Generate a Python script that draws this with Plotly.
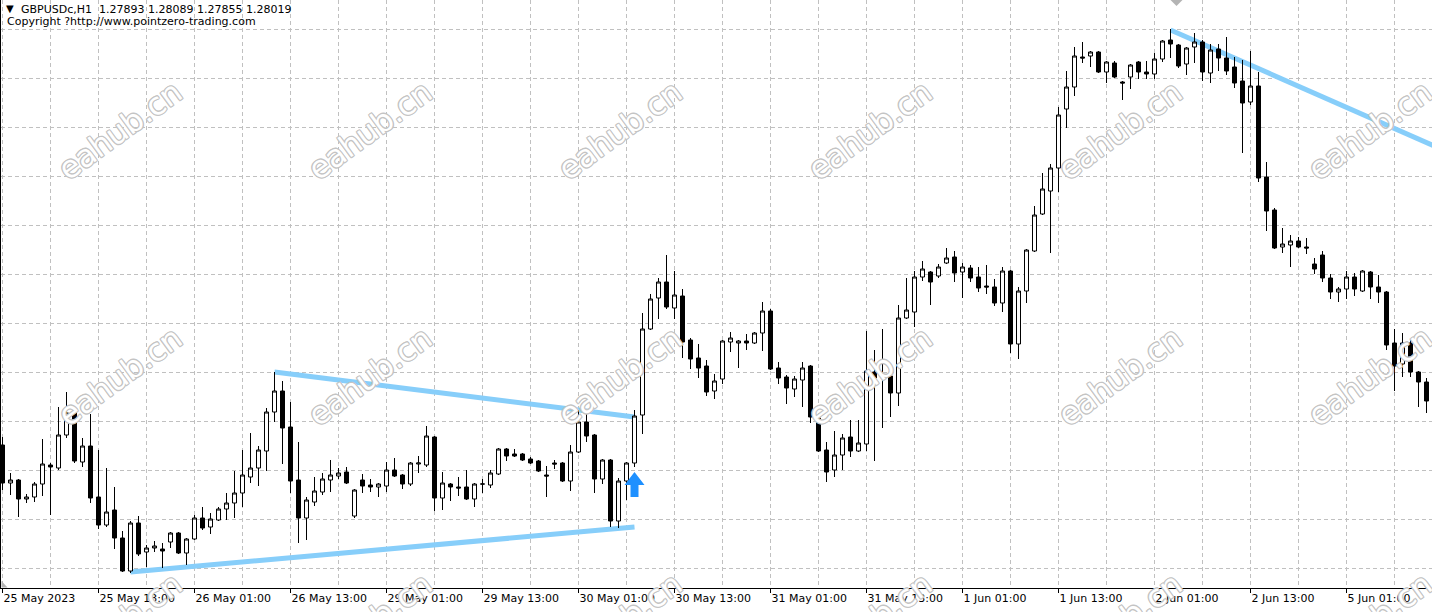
import plotly.graph_objects as go

# ---------------- data (H1 bars, GBPUSDc) ----------------
OPEN = [1.23592, 1.23440, 1.23452, 1.23376, 1.23384, 1.23436, 1.23512, 1.23500, 1.23632, 1.23724,
        1.23524, 1.23588, 1.23384, 1.23272, 1.23332, 1.23220, 1.23088, 1.23280, 1.23164, 1.23180,
        1.23176, 1.23204, 1.23240, 1.23160, 1.23216, 1.23300, 1.23264, 1.23292, 1.23336, 1.23360,
        1.23400, 1.23464, 1.23500, 1.23568, 1.23724, 1.23808, 1.23664, 1.23452, 1.23300, 1.23364,
        1.23404, 1.23452, 1.23468, 1.23484, 1.23308, 1.23452, 1.23432, 1.23424, 1.23428, 1.23492,
        1.23472, 1.23436, 1.23516, 1.23512, 1.23624, 1.23380, 1.23436, 1.23424, 1.23424, 1.23376,
        1.23436, 1.23432, 1.23476, 1.23576, 1.23556, 1.23556, 1.23536, 1.23528, 1.23472, 1.23520,
        1.23520, 1.23448, 1.23564, 1.23684, 1.23632, 1.23456, 1.23532, 1.23288, 1.23448, 1.23520,
        1.23712, 1.24056, 1.24180, 1.24244, 1.24140, 1.24188, 1.24012, 1.23940, 1.23908, 1.23808,
        1.23856, 1.24004, 1.24000, 1.24008, 1.24000, 1.24040, 1.24128, 1.23900, 1.23864, 1.23816,
        1.23852, 1.23908, 1.23700, 1.23572, 1.23492, 1.23552, 1.23624, 1.23568, 1.23596, 1.23884,
        1.23864, 1.23868, 1.23800, 1.24100, 1.24124, 1.24264, 1.24284, 1.24268, 1.24320, 1.24344,
        1.24284, 1.24300, 1.24264, 1.24228, 1.24224, 1.24160, 1.24288, 1.23996, 1.24208, 1.24368,
        1.24516, 1.24608, 1.24700, 1.24936, 1.25024, 1.25144, 1.25148, 1.25164, 1.25084, 1.25120,
        1.25044, 1.25064, 1.25124, 1.25084, 1.25076, 1.25136, 1.25212, 1.25192, 1.25116, 1.25184,
        1.25204, 1.25080, 1.25176, 1.25140, 1.25104, 1.25048, 1.24964, 1.25028, 1.24664, 1.24532,
        1.24384, 1.24392, 1.24408, 1.24384, 1.24316, 1.24352, 1.24260, 1.24204, 1.24216, 1.24264,
        1.24208, 1.24284, 1.24224, 1.24204, 1.24000, 1.23916, 1.24000, 1.23884, 1.23844]
HIGH = [1.23624, 1.23480, 1.23456, 1.23396, 1.23444, 1.23616, 1.23520, 1.23744, 1.23804, 1.23728,
        1.23620, 1.23716, 1.23572, 1.23500, 1.23424, 1.23248, 1.23288, 1.23308, 1.23192, 1.23208,
        1.23200, 1.23244, 1.23244, 1.23220, 1.23312, 1.23344, 1.23320, 1.23344, 1.23400, 1.23488,
        1.23572, 1.23640, 1.23588, 1.23740, 1.23884, 1.23848, 1.23764, 1.23604, 1.23384, 1.23464,
        1.23480, 1.23532, 1.23500, 1.23504, 1.23416, 1.23476, 1.23456, 1.23440, 1.23524, 1.23540,
        1.23476, 1.23524, 1.23548, 1.23668, 1.23628, 1.23484, 1.23440, 1.23464, 1.23492, 1.23440,
        1.23456, 1.23492, 1.23580, 1.23580, 1.23576, 1.23560, 1.23544, 1.23532, 1.23508, 1.23532,
        1.23524, 1.23592, 1.23732, 1.23716, 1.23636, 1.23536, 1.23536, 1.23460, 1.23524, 1.23732,
        1.24120, 1.24196, 1.24260, 1.24352, 1.24288, 1.24216, 1.24020, 1.23996, 1.23932, 1.23876,
        1.24012, 1.24044, 1.24012, 1.24036, 1.24044, 1.24164, 1.24136, 1.23924, 1.23872, 1.23868,
        1.23924, 1.23912, 1.23716, 1.23604, 1.23648, 1.23636, 1.23692, 1.23692, 1.24048, 1.23972,
        1.24056, 1.23888, 1.24152, 1.24260, 1.24288, 1.24328, 1.24288, 1.24316, 1.24380, 1.24368,
        1.24320, 1.24312, 1.24304, 1.24312, 1.24256, 1.24304, 1.24292, 1.24224, 1.24376, 1.24548,
        1.24680, 1.24716, 1.24944, 1.25088, 1.25184, 1.25204, 1.25168, 1.25168, 1.25128, 1.25128,
        1.25048, 1.25116, 1.25128, 1.25128, 1.25160, 1.25212, 1.25256, 1.25196, 1.25184, 1.25240,
        1.25212, 1.25196, 1.25196, 1.25224, 1.25144, 1.25132, 1.25168, 1.25084, 1.24724, 1.24540,
        1.24460, 1.24432, 1.24424, 1.24420, 1.24340, 1.24368, 1.24276, 1.24224, 1.24288, 1.24280,
        1.24292, 1.24288, 1.24272, 1.24208, 1.24056, 1.24040, 1.24012, 1.23888, 1.23860]
LOW = [1.23412, 1.23392, 1.23304, 1.23360, 1.23364, 1.23388, 1.23312, 1.23492, 1.23620, 1.23520,
       1.23504, 1.23360, 1.23256, 1.23264, 1.23176, 1.23084, 1.23080, 1.23148, 1.23104, 1.23164,
       1.23100, 1.23180, 1.23156, 1.23112, 1.23212, 1.23252, 1.23236, 1.23288, 1.23292, 1.23300,
       1.23344, 1.23440, 1.23428, 1.23488, 1.23684, 1.23516, 1.23400, 1.23200, 1.23212, 1.23348,
       1.23392, 1.23404, 1.23456, 1.23436, 1.23300, 1.23400, 1.23404, 1.23384, 1.23404, 1.23464,
       1.23416, 1.23428, 1.23480, 1.23504, 1.23328, 1.23332, 1.23368, 1.23388, 1.23372, 1.23344,
       1.23400, 1.23420, 1.23472, 1.23528, 1.23544, 1.23528, 1.23516, 1.23484, 1.23384, 1.23496,
       1.23444, 1.23408, 1.23560, 1.23604, 1.23400, 1.23436, 1.23264, 1.23260, 1.23372, 1.23504,
       1.23636, 1.24052, 1.24096, 1.24136, 1.24096, 1.23940, 1.23896, 1.23860, 1.23788, 1.23776,
       1.23836, 1.23964, 1.23900, 1.23972, 1.23996, 1.23968, 1.23892, 1.23836, 1.23756, 1.23784,
       1.23744, 1.23680, 1.23564, 1.23444, 1.23464, 1.23492, 1.23544, 1.23564, 1.23568, 1.23528,
       1.23660, 1.23704, 1.23748, 1.24096, 1.24064, 1.24248, 1.24152, 1.24260, 1.24316, 1.24244,
       1.24180, 1.24244, 1.24204, 1.24196, 1.24148, 1.24124, 1.23960, 1.23936, 1.24160, 1.24364,
       1.24512, 1.24360, 1.24604, 1.24860, 1.24988, 1.25120, 1.25104, 1.25080, 1.25040, 1.25060,
       1.24972, 1.25016, 1.25056, 1.25056, 1.25056, 1.25124, 1.25140, 1.25100, 1.25072, 1.25120,
       1.25048, 1.25040, 1.25088, 1.25072, 1.25020, 1.24760, 1.24952, 1.24644, 1.24448, 1.24376,
       1.24360, 1.24304, 1.24380, 1.24356, 1.24276, 1.24244, 1.24176, 1.24164, 1.24176, 1.24188,
       1.24204, 1.24176, 1.24160, 1.23972, 1.23808, 1.23864, 1.23864, 1.23744, 1.23720]
CLOSE = [1.23440, 1.23452, 1.23376, 1.23384, 1.23436, 1.23516, 1.23504, 1.23632, 1.23720, 1.23528,
         1.23588, 1.23380, 1.23272, 1.23324, 1.23220, 1.23088, 1.23280, 1.23156, 1.23180, 1.23188,
         1.23168, 1.23240, 1.23160, 1.23216, 1.23300, 1.23260, 1.23296, 1.23336, 1.23360, 1.23400,
         1.23472, 1.23500, 1.23572, 1.23724, 1.23808, 1.23660, 1.23448, 1.23300, 1.23372, 1.23408,
         1.23456, 1.23472, 1.23480, 1.23440, 1.23412, 1.23428, 1.23424, 1.23436, 1.23492, 1.23468,
         1.23436, 1.23520, 1.23520, 1.23628, 1.23380, 1.23440, 1.23424, 1.23420, 1.23376, 1.23436,
         1.23436, 1.23480, 1.23576, 1.23548, 1.23548, 1.23532, 1.23520, 1.23488, 1.23468, 1.23516,
         1.23448, 1.23564, 1.23684, 1.23628, 1.23456, 1.23532, 1.23288, 1.23448, 1.23520, 1.23708,
         1.24056, 1.24176, 1.24244, 1.24144, 1.24192, 1.24004, 1.23936, 1.23900, 1.23804, 1.23848,
         1.24008, 1.24020, 1.24008, 1.24000, 1.24040, 1.24128, 1.23896, 1.23860, 1.23820, 1.23856,
         1.23900, 1.23704, 1.23568, 1.23484, 1.23552, 1.23620, 1.23568, 1.23600, 1.23888, 1.23860,
         1.23872, 1.23800, 1.24100, 1.24132, 1.24264, 1.24296, 1.24244, 1.24304, 1.24340, 1.24280,
         1.24304, 1.24260, 1.24220, 1.24224, 1.24160, 1.24288, 1.23996, 1.24208, 1.24372, 1.24512,
         1.24616, 1.24700, 1.24912, 1.25024, 1.25148, 1.25140, 1.25164, 1.25084, 1.25124, 1.25064,
         1.25040, 1.25112, 1.25084, 1.25076, 1.25136, 1.25208, 1.25196, 1.25108, 1.25180, 1.25204,
         1.25084, 1.25172, 1.25140, 1.25088, 1.25040, 1.24960, 1.25028, 1.24660, 1.24528, 1.24380,
         1.24396, 1.24408, 1.24384, 1.24380, 1.24296, 1.24260, 1.24204, 1.24216, 1.24264, 1.24216,
         1.24288, 1.24224, 1.24204, 1.23992, 1.23908, 1.24000, 1.23884, 1.23844, 1.23768]
BARS = list(range(len(OPEN)))

TICK_BARS = [0, 12, 24, 36, 48, 60, 72, 84, 96, 108, 120, 132, 144, 156, 168]
TICK_LABELS = ["25 May 2023", "25 May 13:00", "26 May 01:00", "26 May 13:00", "29 May 01:00",
               "29 May 13:00", "30 May 01:00", "30 May 13:00", "31 May 01:00", "31 May 13:00",
               "1 Jun 01:00", "1 Jun 13:00", "2 Jun 01:00", "2 Jun 13:00", "5 Jun 01:00"]

# trend lines: (start bar, start price) -> (end bar, end price)
TL_START_BAR = [16, 34, 146]
TL_START_PRICE = [1.23084, 1.23884, 1.25252]
TL_END_BAR = [79, 79, 179]
TL_END_PRICE = [1.23264, 1.23704, 1.24788]

SIGNAL_BAR = 79
SIGNAL_PRICE = 1.23484

SYMBOL = "GBPUSDc,H1"
HEADER_OHLC = [1.27893, 1.28089, 1.27855, 1.28019]
COPYRIGHT = "Copyright ?http://www.pointzero-trading.com"
WATERMARK = "eahub.cn"

# ---------------- layout geometry ----------------
W, H = 1432, 612
ML, MB = 1, 24
PW, PH = W - ML, H - MB
BAR_PX = 8.0
X0 = -(2.5 - ML) / BAR_PX
X1 = X0 + PW / BAR_PX
Y_MIN, Y_MAX = 1.23020, 1.25372
GRID_Y0, GRID_DY = 1.23098, 0.00196

FONT = "DejaVu Sans, Verdana, sans-serif"
GRID = "#c0c0c0"

fig = go.Figure()
fig.add_trace(go.Candlestick(
    x=BARS, open=OPEN, high=HIGH, low=LOW, close=CLOSE,
    increasing=dict(line=dict(color="black", width=1), fillcolor="white"),
    decreasing=dict(line=dict(color="black", width=1), fillcolor="black"),
    whiskerwidth=0, hoverinfo="skip", showlegend=False,
))

shapes = []
for xb0, yp0, xb1, yp1 in zip(TL_START_BAR, TL_START_PRICE, TL_END_BAR, TL_END_PRICE):
    shapes.append(dict(type="line", xref="x", yref="y", x0=xb0, y0=yp0, x1=xb1, y1=yp1,
                       line=dict(color="#87CEFA", width=5), layer="between"))
# buy arrow glyph (pixel-sized, anchored at signal bar / price)
shapes.append(dict(type="path", xref="x", yref="y", xsizemode="pixel", ysizemode="pixel",
                   xanchor=SIGNAL_BAR, yanchor=SIGNAL_PRICE,
                   path="M0,0 L10,-13 L4,-13 L4,-25 L-4,-25 L-4,-13 L-10,-13 Z",
                   fillcolor="#1E90FF", line=dict(width=0), layer="above"))
# chart-shift marker at top, corner marker at bottom-left
shapes.append(dict(type="path", xref="paper", yref="paper", xsizemode="pixel", ysizemode="pixel",
                   xanchor=(1176.5 - ML) / PW, yanchor=1,
                   path="M-6,0 L6,0 L0,-6 Z", fillcolor="#b4b4b4", line=dict(width=0)))
shapes.append(dict(type="path", xref="paper", yref="paper", xsizemode="pixel", ysizemode="pixel",
                   xanchor=0, yanchor=0,
                   path="M0.5,0.5 L6.5,0.5 L0.5,7 Z", fillcolor="#b4b4b4", line=dict(width=0)))

annotations = []
outline = ", ".join(f"{dx}px {dy}px 0 #c4c4c4" for dx, dy in
                    [(1, 0), (-1, 0), (0, 1), (0, -1), (1, 1), (-1, -1), (1, -1), (-1, 1)])
for j in range(3):
    for i in range(6):
        cx = 120 + 250 * i
        cy = 130 + 246 * j
        annotations.append(dict(
            text=WATERMARK, xref="paper", yref="paper",
            x=(cx - ML) / PW, y=(PH - cy) / PH, xanchor="center", yanchor="middle",
            showarrow=False, textangle=-36,
            font=dict(family=FONT, size=31, color="white", shadow=outline)))

annotations.append(dict(text="\u25BC", xref="paper", yref="paper", x=(4 - ML) / PW, y=1,
                        xanchor="left", yanchor="top", yshift=-1, showarrow=False,
                        font=dict(family=FONT, size=10, color="black")))
annotations.append(dict(
    text=SYMBOL + "\u00a0\u00a0" + " ".join(f"{v:.5f}" for v in HEADER_OHLC),
    xref="paper", yref="paper", x=(19 - ML) / PW, y=1, xanchor="left", yanchor="top",
    yshift=-1, showarrow=False, font=dict(family=FONT, size=11, color="black")))
annotations.append(dict(
    text=COPYRIGHT, xref="paper", yref="paper", x=(5 - ML) / PW, y=1, xanchor="left",
    yanchor="top", yshift=-13, showarrow=False, font=dict(family=FONT, size=11, color="black")))

fig.update_layout(
    template="none",
    width=W, height=H, margin=dict(l=ML, r=0, t=0, b=MB, pad=0, autoexpand=False),
    paper_bgcolor="white", plot_bgcolor="white",
    showlegend=False, boxgap=0.5, boxgroupgap=0,
    shapes=shapes, annotations=annotations,
    xaxis=dict(
        range=[X0, X1], rangeslider=dict(visible=False), fixedrange=True, automargin=False,
        tickmode="array", tickvals=TICK_BARS, ticktext=TICK_LABELS,
        ticks="outside", ticklen=4, tickcolor="black", tickwidth=1,
        ticklabelposition="outside right",
        tickfont=dict(family=FONT, size=11, color="black"),
        showline=True, linecolor="black", linewidth=1,
        showgrid=True, gridcolor=GRID, griddash="4px,3px", gridwidth=1,
        minor=dict(tickmode="linear", tick0=0, dtick=6, ticks="", showgrid=True,
                   gridcolor=GRID, griddash="4px,3px", gridwidth=1),
        zeroline=False,
    ),
    yaxis=dict(
        range=[Y_MIN, Y_MAX], fixedrange=True, automargin=False,
        tickmode="linear", tick0=GRID_Y0, dtick=GRID_DY,
        showticklabels=False, ticks="",
        showline=True, linecolor="black", linewidth=1,
        showgrid=True, gridcolor=GRID, griddash="4px,3px", gridwidth=1,
        zeroline=False,
    ),
)

fig.write_html("out.html", config={"displayModeBar": False},
               post_script="document.body.style.margin='0';document.body.style.overflow='hidden';")
